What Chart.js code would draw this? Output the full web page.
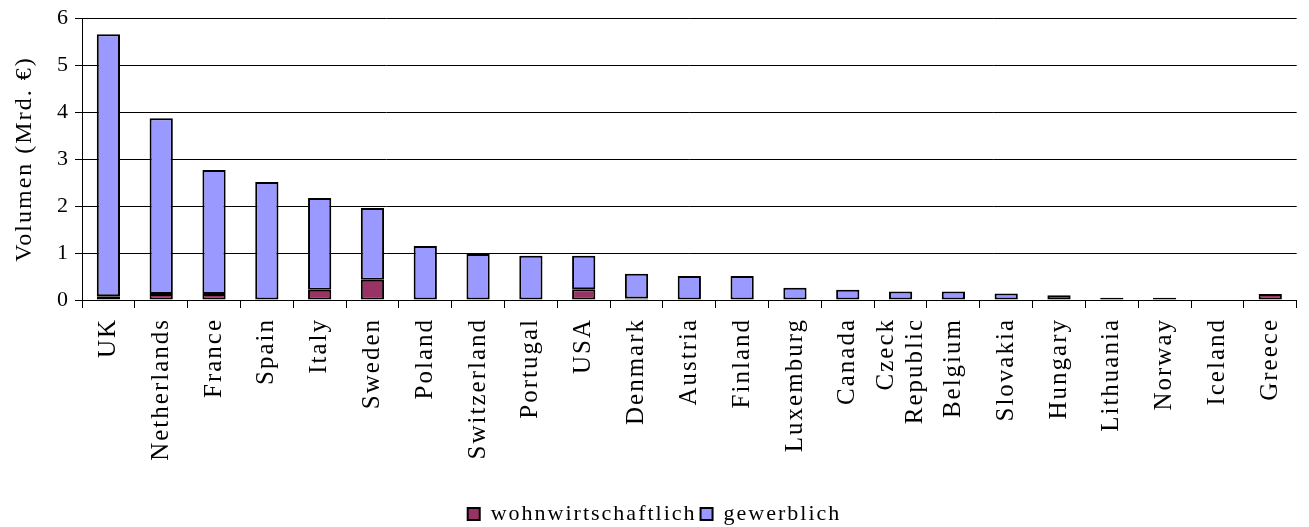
<!DOCTYPE html>
<html>
<head>
<meta charset="utf-8">
<script src="https://cdn.jsdelivr.net/npm/chart.js@4"></script>
<style>
html,body{margin:0;padding:0;background:#fff;}
#wrap{width:1309px;height:527px;position:relative;}
</style>
</head>
<body>
<div id="wrap"><canvas id="c" width="1309" height="527"></canvas></div>
<script>
const categories = ['UK','Netherlands','France','Spain','Italy','Sweden','Poland','Switzerland','Portugal','USA','Denmark','Austria','Finland','Luxemburg','Canada',['Czeck','Republic'],'Belgium','Slovakia','Hungary','Lithuania','Norway','Iceland','Greece'];
const wohnwirtschaftlich = [0.08,0.13,0.13,null,0.22,0.43,null,null,null,0.23,0.03,null,null,null,null,null,null,null,null,0.05,0.05,null,0.13];
const gewerblich = [5.58,3.74,2.64,2.51,1.95,1.53,1.15,0.98,0.94,0.71,0.53,0.51,0.51,0.26,0.22,0.18,0.18,0.14,0.1,null,null,null,null];
const yTicks = [0,1,2,3,4,5,6];

const FONT = 'Liberation Serif';
Chart.defaults.font.family = FONT;
Chart.defaults.color = '#000';

const spacing = {
  id:'spacing',
  beforeUpdate(chart){ chart.ctx.letterSpacing = '2px'; },
  beforeLayout(chart){ chart.ctx.letterSpacing = '2px'; },
  beforeDraw(chart){
    chart.ctx.letterSpacing = '2px';
    // centre multi-line rotated labels on their tick
    const s = chart.scales.x;
    const items = s.getLabelItems();
    items.forEach(it => {
      if (Array.isArray(it.label) && !it._centred) {
        const lh = s.options.ticks.font.size * s.options.ticks.font.lineHeight;
        it.options.translation[0] -= (it.label.length - 1) * lh / 2;
        it._centred = true;
      }
    });
  }
};

new Chart(document.getElementById('c'), {
  type: 'bar',
  plugins:[spacing],
  data: {
    labels: categories,
    datasets: [
      {label:'wohnwirtschaftlich', data: wohnwirtschaftlich, backgroundColor:'#993366', borderColor:'#000', borderWidth:2, borderSkipped:false},
      {label:'gewerblich', data: gewerblich, backgroundColor:'#9999FF', borderColor:'#000', borderWidth:2, borderSkipped:false}
    ]
  },
  options: {
    responsive:false,
    animation:false,
    devicePixelRatio:1,
    layout:{padding:{top:8,right:0,left:0,bottom:-8}},
    datasets:{bar:{barPercentage:0.44, categoryPercentage:1}},
    plugins:{
      legend:{position:'bottom', labels:{font:{size:22,family:FONT}, boxWidth:12, boxHeight:12, padding:4, color:'#000'}},
      tooltip:{enabled:false}
    },
    scales:{
      x:{
        stacked:true,
        grid:{offset:true, drawOnChartArea:false, drawTicks:true, tickLength:8, color:'#000', lineWidth:1},
        border:{display:true, color:'#000', width:1},
        ticks:{minRotation:90, maxRotation:90, autoSkip:false, font:{size:25,family:FONT,lineHeight:1.15}, color:'#000', padding:10},
        afterFit(s){ s.height = 199; }
      },
      y:{
        stacked:true,
        min:0, max:6,
        afterBuildTicks(s){ s.ticks = yTicks.map(v=>({value:v})); },
        grid:{color:'#000', lineWidth:1, drawTicks:true, tickLength:7},
        border:{display:true, color:'#000', width:1},
        ticks:{font:{size:22,family:FONT}, color:'#000', padding:5},
        title:{display:true, text:'Volumen (Mrd. €)', font:{size:24,family:FONT}, color:'#000', padding:{top:10,bottom:0}},
        afterFit(s){ s.width = 82; }
      }
    }
  }
});
</script>
</body>
</html>
